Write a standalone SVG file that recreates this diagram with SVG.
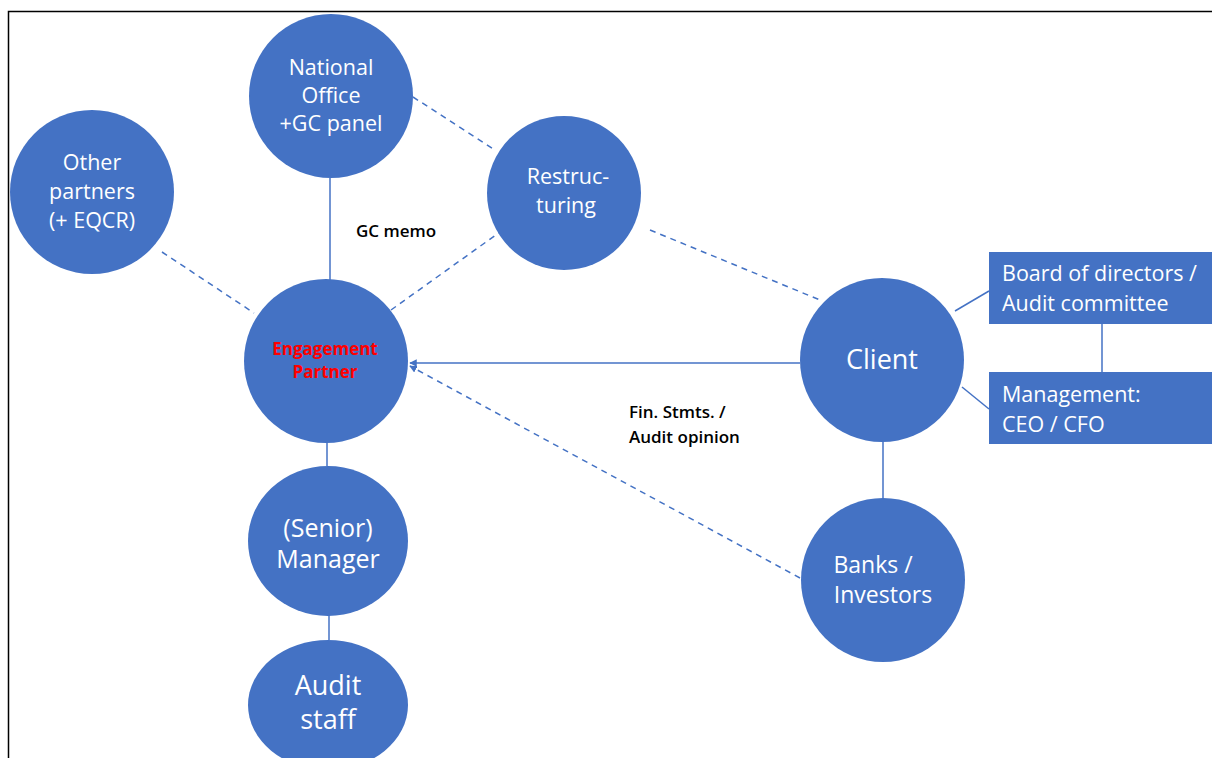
<svg xmlns="http://www.w3.org/2000/svg" width="1212" height="758" viewBox="0 0 1212 758">
<style>
.n{fill:#4472C4;}
.t{fill:#fff;font-family:"Open Sans","Liberation Sans",sans-serif;text-anchor:middle;}
.tl{fill:#fff;font-family:"Open Sans","Liberation Sans",sans-serif;}
.s{stroke:#4472C4;stroke-width:1.5;fill:none;}
.d{stroke:#4472C4;stroke-width:1.5;fill:none;stroke-dasharray:6 5;}
.lab{fill:#000;font-family:"Open Sans","Liberation Sans",sans-serif;font-weight:600;font-size:17px;}
.ep{fill:#FF0000;font-family:"Open Sans","Liberation Sans",sans-serif;text-anchor:middle;font-weight:bold;font-size:17px;}
</style>
<defs>
<marker id="ah" viewBox="0 0 10 10" refX="9" refY="5" markerWidth="5" markerHeight="5" orient="auto-start-reverse" markerUnits="strokeWidth">
<path d="M0,0 L10,5 L0,10 z" fill="#4472C4"/>
</marker>
</defs>
<rect x="0" y="0" width="1212" height="758" fill="#fff"/>
<path d="M8.5,758 V11.5 H1212" stroke="#000" stroke-width="1.5" fill="none"/>
<g id="connectors">
<line class="s" x1="330" y1="178" x2="330" y2="280"/>
<line class="s" x1="327" y1="442" x2="327" y2="466"/>
<line class="s" x1="329" y1="615" x2="329" y2="640"/>
<line class="d" x1="413" y1="97" x2="495" y2="150"/>
<line class="d" x1="162" y1="252" x2="254" y2="313"/>
<line class="d" x1="391" y1="310" x2="500" y2="232"/>
<line class="d" x1="650" y1="230" x2="820" y2="300"/>
<line class="s" x1="800" y1="363" x2="410" y2="363" marker-end="url(#ah)"/>
<line class="d" x1="800" y1="578" x2="410" y2="366" marker-end="url(#ah)"/>
<line class="s" x1="883" y1="440" x2="883" y2="498"/>
<line class="s" x1="955" y1="311" x2="989" y2="291"/>
<line class="s" x1="962" y1="387" x2="989" y2="409"/>
<line class="s" x1="1102" y1="324" x2="1102" y2="372"/>
</g>
<g id="national-office">
<circle class="n" cx="331" cy="96" r="82"/>
<text class="t" font-size="21.5" x="331" y="75">National</text>
<text class="t" font-size="21.5" x="331" y="103">Office</text>
<text class="t" font-size="21.5" x="331" y="131">+GC panel</text>
</g>
<g id="other-partners">
<circle class="n" cx="92" cy="192" r="82"/>
<text class="t" font-size="21.5" x="92" y="170">Other</text>
<text class="t" font-size="21.5" x="92" y="199">partners</text>
<text class="t" font-size="21.5" x="92" y="228">(+ EQCR)</text>
</g>
<g id="restructuring">
<circle class="n" cx="564" cy="193" r="77"/>
<text class="t" font-size="21.5" x="568" y="184">Restruc-</text>
<text class="t" font-size="21.5" x="566" y="213">turing</text>
</g>
<g id="engagement-partner">
<circle class="n" cx="326" cy="361" r="82"/>
<text class="ep" x="325" y="355">Engagement</text>
<text class="ep" x="325" y="378">Partner</text>
</g>
<g id="senior-manager">
<ellipse class="n" cx="328" cy="541" rx="80" ry="75"/>
<text class="t" font-size="25" x="328" y="537">(Senior)</text>
<text class="t" font-size="25" x="328" y="568">Manager</text>
</g>
<g id="audit-staff">
<ellipse class="n" cx="328" cy="705" rx="80" ry="65"/>
<text class="t" font-size="27" x="328" y="695">Audit</text>
<text class="t" font-size="27" x="328" y="729">staff</text>
</g>
<g id="client">
<circle class="n" cx="882" cy="360" r="82"/>
<text class="t" font-size="27" x="882" y="369">Client</text>
</g>
<g id="banks-investors">
<circle class="n" cx="883" cy="580" r="82"/>
<text class="t" font-size="23" x="873" y="573">Banks /</text>
<text class="t" font-size="23" x="883" y="603">Investors</text>
</g>
<g id="board">
<rect class="n" x="989" y="252" width="223" height="72"/>
<text class="tl" font-size="21.5" x="1002" y="281">Board of directors /</text>
<text class="tl" font-size="21.5" x="1002" y="311">Audit committee</text>
</g>
<g id="management">
<rect class="n" x="989" y="372" width="223" height="72"/>
<text class="tl" font-size="21.5" x="1002" y="402">Management:</text>
<text class="tl" font-size="21.5" x="1002" y="432">CEO / CFO</text>
</g>
<g id="labels">
<text class="lab" x="356" y="237">GC memo</text>
<text class="lab" x="629" y="418">Fin. Stmts. /</text>
<text class="lab" x="629" y="443">Audit opinion</text>
</g>
</svg>
